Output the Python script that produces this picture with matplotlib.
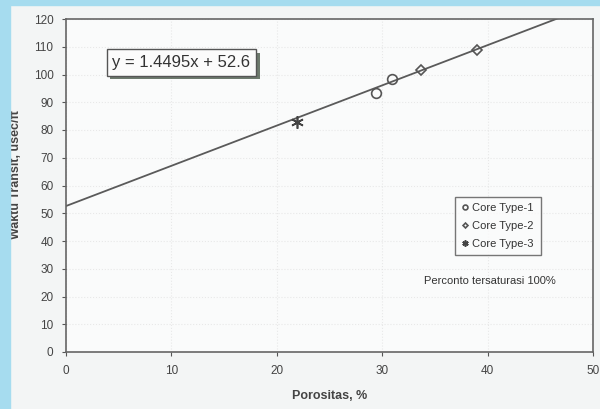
import matplotlib.pyplot as plt
import matplotlib.patheffects as pe
from matplotlib.patches import Rectangle
import numpy as np

plt.rcParams['font.family'] = ['Liberation Sans', 'DejaVu Sans']

# data
core1_x = [29.4, 30.9]
core1_y = [93.3, 98.2]
core2_x = [33.7, 39.0]
core2_y = [101.6, 108.8]
core3_x = [21.9]
core3_y = [82.9]
slope, intercept = 1.4495, 52.6

xticks = [0, 10, 20, 30, 40, 50]
yticks = list(range(0, 121, 10))

fig = plt.figure(figsize=(6.0, 4.09), dpi=100, facecolor='#f3f5f5')
ax = fig.add_axes([66/600, 1 - 352/409, 527/600, 333/409])
ax.set_facecolor('#fafbfb')

# trend line
xl = np.array([0, 50])
ax.plot(xl, slope * xl + intercept, color='#5a5a5a', lw=1.3, zorder=2)

ax.plot(core1_x, core1_y, 'o', ms=7, mfc='none', mec='#555555', mew=1.2,
        label='Core Type-1', zorder=3)
ax.plot(core2_x, core2_y, 'D', ms=5, mfc='none', mec='#555555', mew=1.2,
        label='Core Type-2', zorder=3)
ax.plot(core3_x, core3_y, marker=(6, 2, 0), ls='none', ms=9, mec='#444444',
        mew=1.2, label='Core Type-3', zorder=3)

ax.set_xlim(0, 50)
ax.set_ylim(0, 120)
ax.set_xticks(xticks)
ax.set_yticks(yticks)
ax.tick_params(direction='out', length=3, labelsize=8.5, colors='#555555',
               labelcolor='#444444', pad=6)
for s in ax.spines.values():
    s.set_color('#666666')
    s.set_linewidth(1.2)
ax.grid(True, color='#dcdcdc', linestyle=':', linewidth=0.8, alpha=0.6)
ax.set_axisbelow(True)

ax.set_xlabel('Porositas, %', fontsize=9, fontweight='bold', color='#444444',
              labelpad=10)
fig.text(16/600, 1 - 175/409, 'Waktu Transit, usec/ft', rotation=90,
         ha='center', va='center', fontsize=9, fontweight='bold',
         color='#444444')

# equation box with shadow
t = ax.text(0.088, 0.869, 'y = 1.4495x + 52.6', transform=ax.transAxes,
            fontsize=12, color='#333333', va='center', ha='left',
            bbox=dict(boxstyle='square,pad=0.35', fc='#fbfbfb',
                      ec='#555555', lw=1.0))
t.get_bbox_patch().set_path_effects([
    pe.withSimplePatchShadow(offset=(2.5, -2.5), shadow_rgbFace='#4a5a4a',
                             alpha=0.8)])

leg = ax.legend(loc='upper left', bbox_to_anchor=(383/527, 1 - 172/333),
                fontsize=8, frameon=True, fancybox=False, edgecolor='#555555',
                handlelength=0.6, handletextpad=0.4, borderpad=0.6,
                labelspacing=0.7, markerscale=0.5)
leg.get_frame().set_linewidth(1.0)
leg.get_frame().set_facecolor('#fbfbfb')
for txt in leg.get_texts():
    txt.set_color('#333333')

ax.text(0.805, 1 - 262/333, 'Perconto tersaturasi 100%',
        transform=ax.transAxes, ha='center', va='center', fontsize=8,
        color='#333333')

# blue frame strips
fig.add_artist(Rectangle((0, 0), 10/600, 1, transform=fig.transFigure,
                         color='#a6dcef', zorder=10))
fig.add_artist(Rectangle((0, 1 - 5/409), 1, 5/409, transform=fig.transFigure,
                         color='#a6dcef', zorder=10))

fig.savefig('out.png', dpi=100, facecolor=fig.get_facecolor())
